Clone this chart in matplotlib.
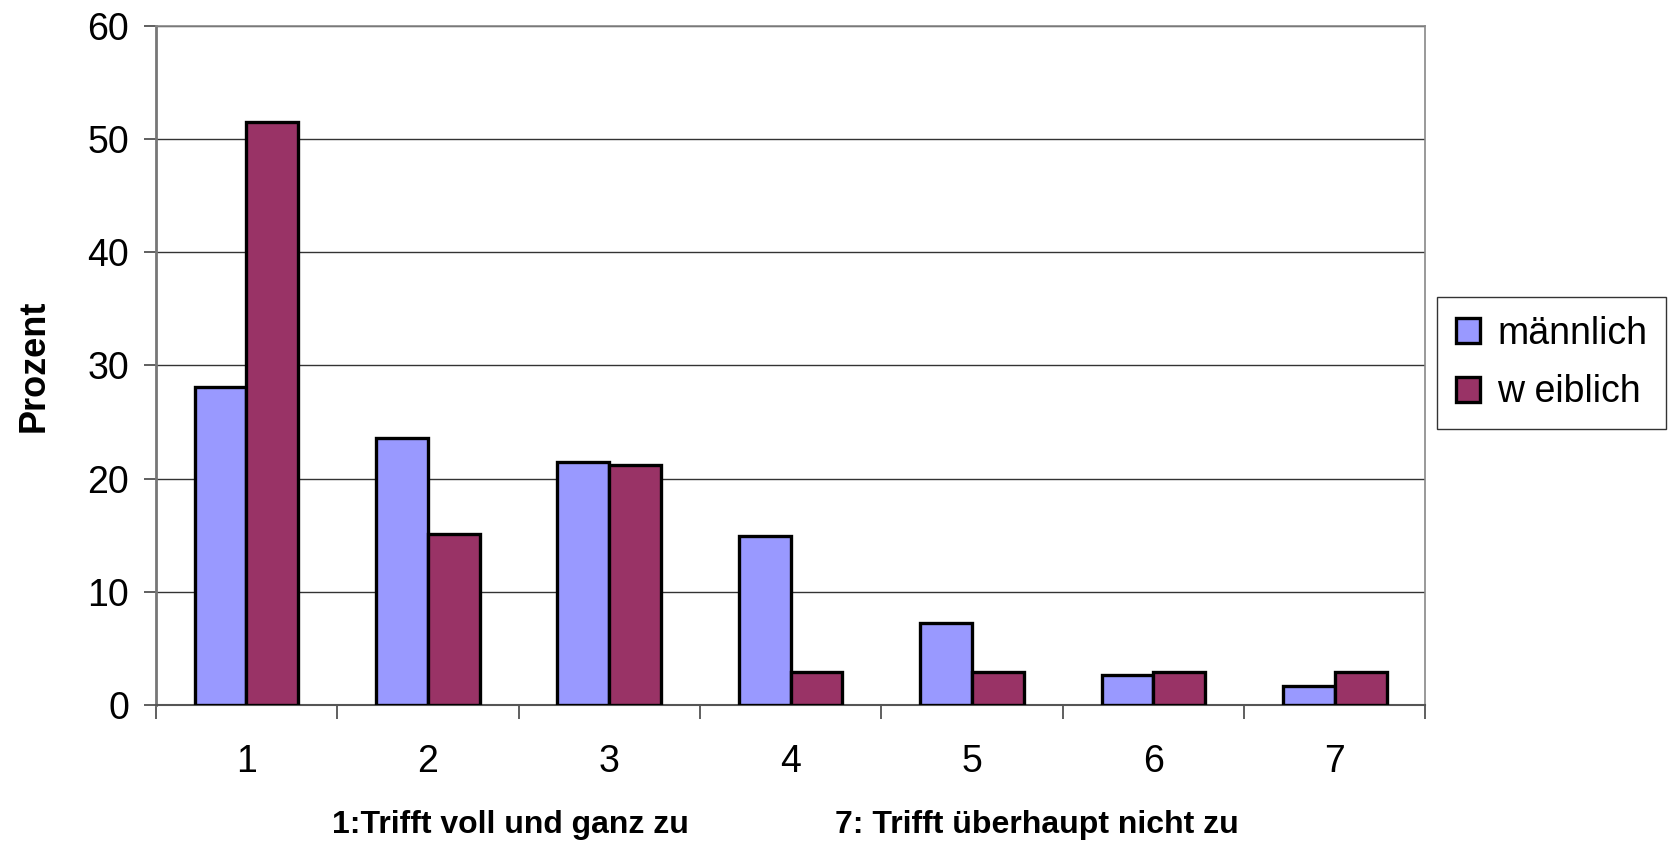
import numpy as np
import matplotlib
matplotlib.use('Agg')
import matplotlib.pyplot as plt

# Daten
kategorien = ['1', '2', '3', '4', '5', '6', '7']
maennlich = [28.1, 23.6, 21.5, 14.9, 7.3, 2.7, 1.7]
weiblich = [51.5, 15.1, 21.2, 2.9, 2.9, 2.9, 2.9]
serien = ['männlich', 'w eiblich']

plt.rcParams['font.family'] = ['Liberation Sans', 'DejaVu Sans']

fig = plt.figure(figsize=(16.73, 8.42), dpi=100)
ax = fig.add_axes([0.0931, 0.1624, 0.7589, 0.8072])

x = np.arange(len(kategorien)) + 0.5
w = 1 / 3.5
ax.bar(x - w / 2, maennlich, width=w, color='#9999FF', edgecolor='black',
       linewidth=2.4, label=serien[0], zorder=3)
ax.bar(x + w / 2, weiblich, width=w, color='#993366', edgecolor='black',
       linewidth=2.4, label=serien[1], zorder=3)

ax.set_xlim(0, 7)
ax.set_ylim(0, 60)
ax.set_yticks(range(0, 61, 10))
ax.set_xticks(x)
ax.set_xticklabels(kategorien)
ax.set_xticks(np.arange(0, 8), minor=True)
ax.tick_params(axis='x', which='major', length=0, labelsize=27, pad=28)
ax.tick_params(axis='x', which='minor', length=10, width=1.2, color='#444444')
ax.tick_params(axis='y', length=9, width=1.2, color='#444444', labelsize=27, pad=10)

ax.grid(axis='y', color='#333333', linewidth=1.0, zorder=0)
for s in ['top', 'right']:
    ax.spines[s].set_color('#888888')
    ax.spines[s].set_linewidth(1.2)
ax.spines['left'].set_color('#777777')
ax.spines['left'].set_linewidth(2)
ax.spines['bottom'].set_color('#555555')
ax.spines['bottom'].set_linewidth(1.5)

ax.set_ylabel('Prozent', fontsize=26, fontweight='bold', labelpad=26)

# x-Beschriftung in zwei Teilen
fig.text(510 / 1673, 1 - 825 / 842, '1:Trifft voll und ganz zu', fontsize=23,
         fontweight='bold', ha='center', va='center')
fig.text(1037 / 1673, 1 - 825 / 842, '7: Trifft überhaupt nicht zu', fontsize=23,
         fontweight='bold', ha='center', va='center')

leg = fig.legend(loc='upper left', bbox_to_anchor=(0.859, 0.647), fontsize=27,
                 frameon=True, fancybox=False, edgecolor='black',
                 handlelength=0.65, handleheight=0.65, handletextpad=0.45,
                 labelspacing=0.6, borderpad=0.5, borderaxespad=0)
leg.get_frame().set_linewidth(1.0)

fig.savefig('out.png', dpi=100, facecolor='white')
